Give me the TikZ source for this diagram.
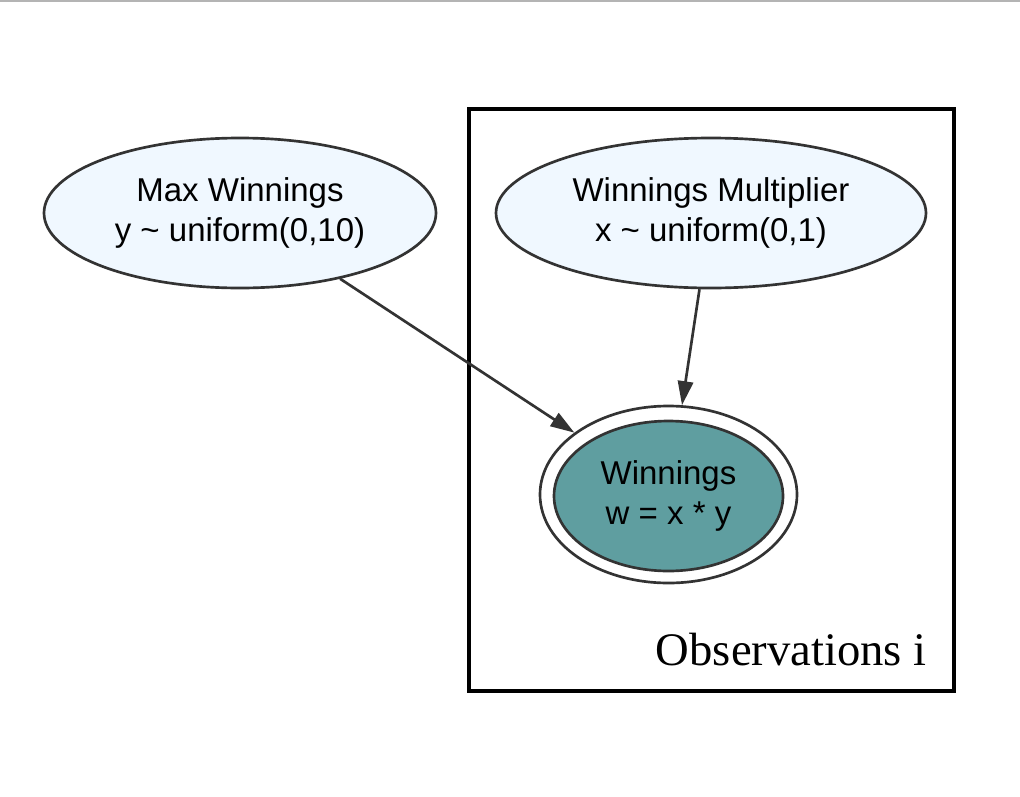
\documentclass[tikz,border=0pt]{standalone}
\usepackage{fontspec}
\setmainfont{Liberation Sans}
\newfontfamily\serifplate{Liberation Serif}
\usetikzlibrary{shapes.geometric,arrows.meta}
\definecolor{stroke}{HTML}{333333}
\definecolor{alice}{HTML}{F0F8FF}
\definecolor{cadet}{HTML}{5F9EA0}
\definecolor{topline}{HTML}{B4B4B4}
\tikzset{
  varnode/.style={ellipse, draw=stroke, line width=2pt, fill=alice, inner sep=0pt,
    align=center, font=\fontsize{24.75pt}{30pt}\selectfont, text=black},
  obsnode/.style={ellipse, draw=stroke, line width=2pt, fill=cadet, inner sep=0pt,
    align=center, font=\fontsize{24.75pt}{30pt}\selectfont, text=black},
  ringnode/.style={ellipse, draw=stroke, line width=2pt, fill=white, inner sep=0pt},
  edge/.style={draw=stroke, line width=2pt, -{Triangle[length=18pt,width=11.5pt]}},
  platebox/.style={draw=black, line width=2.3pt, inner sep=0pt},
}
\begin{document}
\begin{tikzpicture}[x=0.75pt,y=-0.75pt]
\useasboundingbox (0,0) rectangle (1020,796);
\fill[white] (0,0) rectangle (1020,796);
\draw[topline, line width=1.2pt] (0,0.8) -- (1020,0.8);
% plate
\node[platebox, minimum width=363.75pt, minimum height=436.5pt] (plate) at (711.5,400) {};
\node[anchor=base east, inner sep=0pt, font=\serifplate\fontsize{35pt}{40pt}\selectfont] (platelabel) at (927,665) {Observations i};
% nodes
\node[varnode, minimum width=294pt, minimum height=112.5pt] (mw) at (240,213) {Max Winnings\\y \textasciitilde{} uniform(0,10)};
\node[varnode, minimum width=322.5pt, minimum height=112.5pt] (wm) at (711,213) {Winnings Multiplier\\x \textasciitilde{} uniform(0,1)};
\node[ringnode, minimum width=192.75pt, minimum height=132.75pt] (wout) at (668.5,494.5) {};
\node[obsnode, minimum width=171.75pt, minimum height=112.5pt] (w) at (668.5,496) {Winnings\\w = x * y};
% edges
\draw[edge] (mw) -- (wout);
\draw[edge] (wm) -- (wout);
\end{tikzpicture}
\end{document}
